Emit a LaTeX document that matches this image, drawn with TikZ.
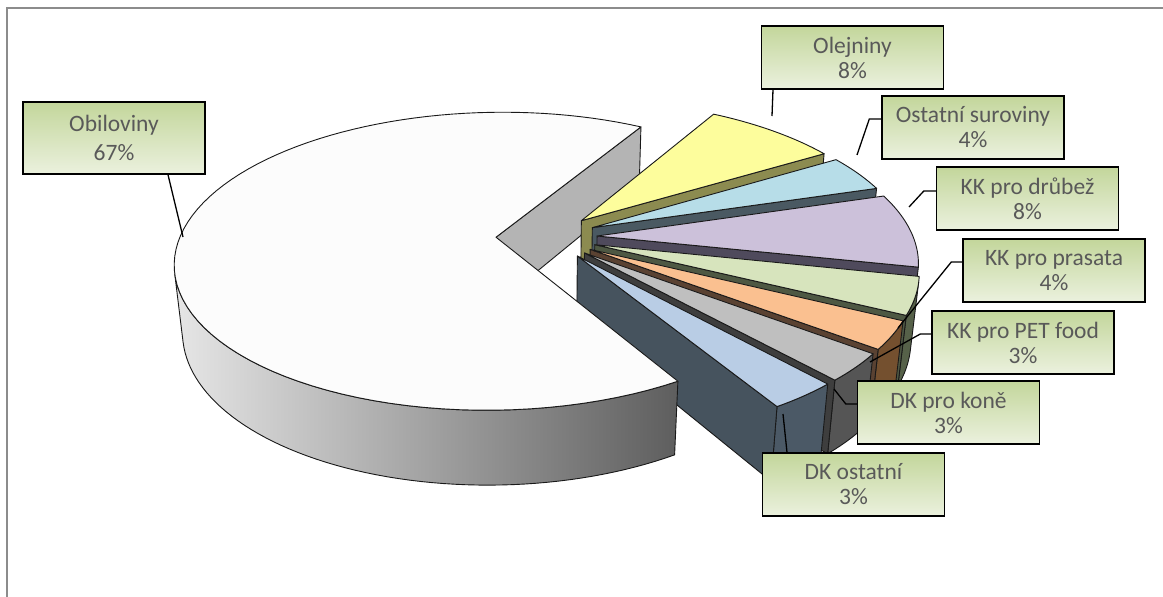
\documentclass[tikz,border=0pt]{standalone}
\usepackage{fontspec}
\setmainfont{Carlito}
\usetikzlibrary{calc}
\definecolor{wtop}{HTML}{FCFCFC}
\definecolor{wcut}{HTML}{B4B4B4}
\definecolor{wsideL}{HTML}{E6E6E6}
\definecolor{wsideR}{HTML}{5E5E5E}
\definecolor{ytop}{HTML}{FDFD9C}
\definecolor{ycut}{HTML}{8C8B50}
\definecolor{btop}{HTML}{B7DDE8}
\definecolor{bcut}{HTML}{4A5962}
\definecolor{ltop}{HTML}{CCC1DA}
\definecolor{lcut}{HTML}{4F4A5C}
\definecolor{gtop}{HTML}{D7E4BD}
\definecolor{gcut}{HTML}{4E5843}
\definecolor{gside}{HTML}{566149}
\definecolor{otop}{HTML}{FAC090}
\definecolor{ocut}{HTML}{5A4232}
\definecolor{oside}{HTML}{74502F}
\definecolor{rtop}{HTML}{BFBFBF}
\definecolor{rcut}{HTML}{3E3E3E}
\definecolor{rside}{HTML}{555555}
\definecolor{sttop}{HTML}{B9CDE5}
\definecolor{stcut}{HTML}{46535E}
\definecolor{stside}{HTML}{4B5966}
\definecolor{lblt}{HTML}{C3D69B}
\definecolor{lblb}{HTML}{EBF1DE}
\definecolor{txtc}{HTML}{595959}
\definecolor{framec}{HTML}{8C8C8C}
\tikzset{
  declare function={
    prjd(\w,\z)=5.52+(\w)*0.870-(\z)*0.493;
    prjx(\u,\w,\z)=546.6+1707*(\u)/prjd(\w,\z);
    prjy(\u,\w,\z)=303.8-1707*((\w)*0.493+(\z)*0.870)/prjd(\w,\z);
  },
  facedge/.style={draw=black!90, line width=0.9pt, line join=round},
  lbl/.style={draw=black, line width=1.4pt, top color=lblt, bottom color=lblb,
    minimum width=182pt, minimum height=63pt, inner sep=0pt, align=center,
    text=txtc, font=\fontsize{23.5}{25}\selectfont},
  leader/.style={draw=black, line width=1.3pt, line join=miter}
}
\def\ex{0.16}
\def\hh{0.243}
\newcommand\mkpt[4]{\coordinate (#1) at ({prjx(#2,#3,#4)},{prjy(#2,#3,#4)});}
\newcommand\SlicePrep[2]{%
  \pgfmathsetmacro\slMa{(#1+#2)/2}%
  \pgfmathsetmacro\slOu{\ex*cos(\slMa)}%
  \pgfmathsetmacro\slOw{\ex*sin(\slMa)}%
  \pgfmathsetmacro\slUa{\slOu+cos(#1)}%
  \pgfmathsetmacro\slWa{\slOw+sin(#1)}%
  \mkpt{T0}{\slOu}{\slOw}{\hh}%
  \mkpt{B0}{\slOu}{\slOw}{0}%
  \mkpt{TA}{\slUa}{\slWa}{\hh}%
  \mkpt{BA}{\slUa}{\slWa}{0}%
}
\newcommand\SliceCut[1]{\filldraw[facedge,fill=#1] (T0) -- (TA) -- (BA) -- (B0) -- cycle;}
\newcommand\SliceTop[3]{\filldraw[facedge,fill=#3] (T0) -- plot[domain=#1:#2,samples=90,variable=\t]
  ({prjx(\slOu+cos(\t),\slOw+sin(\t),\hh)},{prjy(\slOu+cos(\t),\slOw+sin(\t),\hh)}) -- cycle;}
\newcommand\SliceSide[3]{\filldraw[facedge,fill=#3]
  plot[domain=#1:#2,samples=40,variable=\t]
  ({prjx(\slOu+cos(\t),\slOw+sin(\t),\hh)},{prjy(\slOu+cos(\t),\slOw+sin(\t),\hh)})
  -- plot[domain=#2:#1,samples=40,variable=\t]
  ({prjx(\slOu+cos(\t),\slOw+sin(\t),0)},{prjy(\slOu+cos(\t),\slOw+sin(\t),0)}) -- cycle;}
\begin{document}
\begin{tikzpicture}[x=1pt,y=-1pt]
\useasboundingbox (0,0) rectangle (1163,597);
\draw[framec, line width=2pt] (7,597) -- (7,8) -- (1163,8);
% white slice: inner cut face
\SlicePrep{60}{301.2}
\SliceCut{wcut}
% small slices, back to front
\SlicePrep{31.2}{60}\SliceCut{ycut}\SliceTop{31.2}{60}{ytop}
\SlicePrep{16.8}{31.2}\SliceCut{bcut}\SliceTop{16.8}{31.2}{btop}
\SlicePrep{-12}{16.8}\SliceCut{lcut}\SliceTop{-12}{16.8}{ltop}
\SlicePrep{-26.4}{-12}\SliceSide{-26.4}{-14}{gside}\SliceCut{gcut}\SliceTop{-26.4}{-12}{gtop}
\SlicePrep{-37.2}{-26.4}\SliceSide{-37.2}{-26.4}{oside}\SliceCut{ocut}\SliceTop{-37.2}{-26.4}{otop}
\SlicePrep{-48}{-37.2}\SliceSide{-48}{-37.2}{rside}\SliceCut{rcut}\SliceTop{-48}{-37.2}{rtop}
\SlicePrep{-58.8}{-48}\SliceSide{-58.8}{-48}{stside}\SliceCut{stcut}\SliceTop{-58.8}{-48}{sttop}
% white slice: side and top
\SlicePrep{60}{301.2}
\shadedraw[facedge,left color=wsideL,right color=wsideR]
  plot[domain=194:301.2,samples=60,variable=\t]
  ({prjx(\slOu+cos(\t),\slOw+sin(\t),\hh)},{prjy(\slOu+cos(\t),\slOw+sin(\t),\hh)})
  -- plot[domain=301.2:194,samples=60,variable=\t]
  ({prjx(\slOu+cos(\t),\slOw+sin(\t),0)},{prjy(\slOu+cos(\t),\slOw+sin(\t),0)}) -- cycle;
\SliceTop{60}{301.2}{wtop}
% labels
\node[lbl, minimum height=72pt, font=\fontsize{23.5}{29}\selectfont] (obil) at (114,138) {Obiloviny\\67\%};
\node[lbl] (olej) at (852.5,57.5) {Olejniny\\8\%};
\node[lbl] (osta) at (973,127.5) {Ostatní suroviny\\4\%};
\node[lbl] (drub) at (1027.5,198.5) {KK pro drůbež\\8\%};
\node[lbl] (pras) at (1054,270.5) {KK pro prasata\\4\%};
\node[lbl] (pet) at (1023,342.5) {KK pro PET food\\3\%};
\node[lbl] (kone) at (948.5,412.5) {DK pro koně\\3\%};
\node[lbl] (dkost) at (853.5,484.5) {DK ostatní\\3\%};
% leader end points
\coordinate (eObil) at (183,237);
\coordinate (eOlej) at (772,116);
\coordinate (eOsta) at (857,155);
\coordinate (eDrub) at (909,207);
\coordinate (ePras) at (898,328);
\coordinate (ePet) at (870,362);
\coordinate (eKone) at (834,389);
\coordinate (eDkost) at (783,414);
\draw[leader] ([xshift=54pt]obil.south) -- (eObil);
\draw[leader] ([xshift=-79.5pt]olej.south) -- (eOlej);
\draw[leader] ([yshift=8.5pt]osta.west) -- ++(-12,0) -- (eOsta);
\draw[leader] ([yshift=7.5pt]drub.west) -- ++(-12,0) -- (eDrub);
\draw[leader] ([yshift=8.5pt]pras.west) -- ++(-11,0) -- (ePras);
\draw[leader] ([yshift=8.5pt]pet.west) -- ++(-11,0) -- (ePet);
\draw[leader] ([yshift=8.5pt]kone.west) -- ++(-11,0) -- (eKone);
\draw[leader] ([xshift=-66.5pt]dkost.north) -- (eDkost);
\end{tikzpicture}
\end{document}
